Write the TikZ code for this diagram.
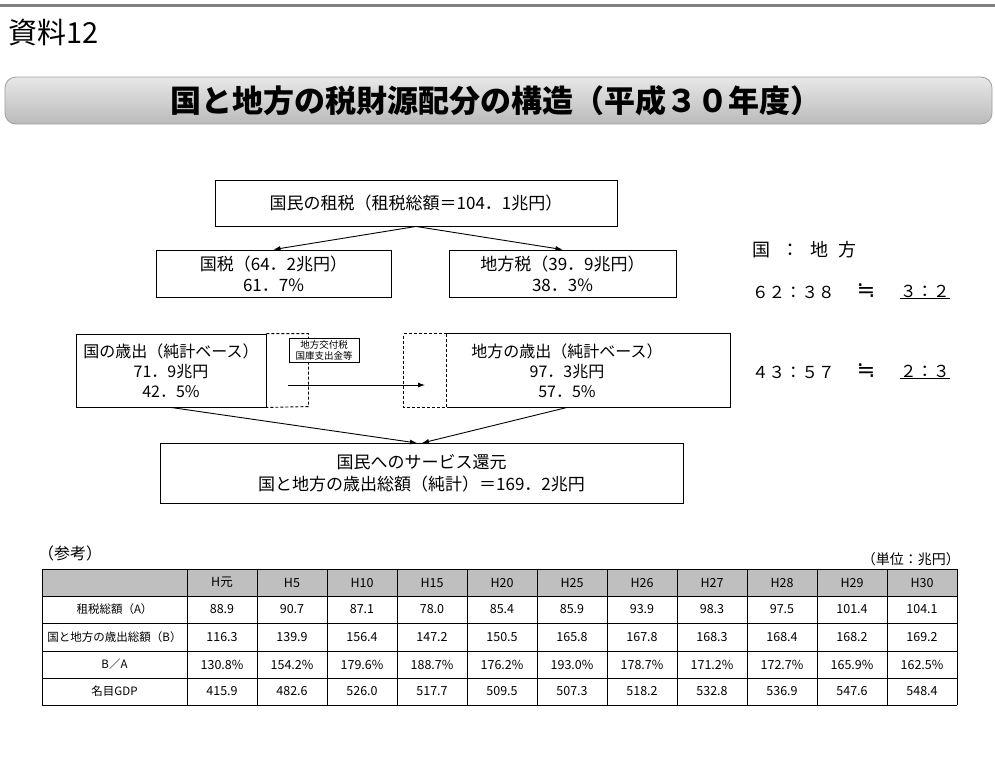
\documentclass[tikz,border=0pt]{standalone}
\usepackage{fontspec}
\setmainfont{Noto Sans CJK JP}
\newfontfamily\symfont{DejaVu Sans}
\usetikzlibrary{arrows.meta,calc}
\begin{document}
\begin{tikzpicture}[x=1pt,y=-1pt,
  box/.style={draw=black,line width=0.9pt,fill=white,inner sep=0pt,align=center,font=\fontsize{17}{21}\selectfont},
  arr/.style={line width=0.9pt,-{Latex[length=7pt,width=5pt]}},
  ln/.style={line width=0.9pt},
  dsh/.style={line width=0.9pt,dash pattern=on 3pt off 2pt},
  txt/.style={inner sep=0pt,anchor=west},
  cell/.style={inner sep=0pt,font=\fontsize{12.5}{14}\selectfont},
  lab/.style={inner sep=0pt,font=\fontsize{11.5}{14}\selectfont},
  tline/.style={line width=1pt,black},
]
\useasboundingbox (0,0) rectangle (995,756);
% top rule
\draw[line width=2.5pt,gray] (0,5.5) -- (995,5.5);
\node[txt] (shiryo) at (8,33) {\fontsize{29}{30}\selectfont 資料12};
% title banner
\shade[top color=black!9,bottom color=black!27,draw=black!38,line width=0.8pt,rounded corners=11pt] (5,77) rectangle (992,124);
\node[inner sep=0pt] (title) at (496,101) {\fontsize{31}{33}\selectfont\bfseries 国と地方の税財源配分の構造（平成３０年度）};

% boxes
\node[box,minimum width=402pt,minimum height=46pt] (b1) at (416,203) {国民の租税（租税総額＝104．1兆円）};
\node[box,minimum width=235pt,minimum height=47pt] (kz) at (273.5,273.5) {国税（64．2兆円）\\61．7\%};
\node[box,minimum width=227pt,minimum height=47pt] (cz) at (562.5,273.5) {地方税（39．9兆円）\\38．3\%};
\draw[arr] (b1.south) -- (kz.north);
\draw[arr] (b1.south) -- (cz.north);

% ratios
\node[txt] (rh) at (752,250) {\fontsize{18}{20}\selectfont 国\hspace{11pt}：\hspace{11pt}地\hspace{10pt}方};
\node[txt] (r1a) at (752,292) {\fontsize{16.5}{20}\selectfont ６２：３８};
\node[inner sep=0pt] (r1b) at (866,291) {\fontsize{22}{22}\selectfont\symfont ≒};
\node[txt] (r1c) at (900,292) {\fontsize{16.5}{20}\selectfont\underline{３：２}};
\node[txt] (r2a) at (752,372) {\fontsize{16.5}{20}\selectfont ４３：５７};
\node[inner sep=0pt] (r2b) at (866,371) {\fontsize{22}{22}\selectfont\symfont ≒};
\node[txt] (r2c) at (900,372) {\fontsize{16.5}{20}\selectfont\underline{２：３}};

% national expenditure
\node[box,minimum width=190pt,minimum height=73pt,font=\fontsize{16}{20}\selectfont] (ks) at (171,370.5) {国の歳出（純計ベース）\\71．9兆円\\42．5\%};
\draw[dsh] (ks.north east) -- ++(42,0) -- ++(0,73) -- (ks.south east);
% local expenditure
\node[box,draw=none,fill=none,minimum width=326pt,minimum height=73pt,font=\fontsize{16}{20}\selectfont] (cs) at (567,370.5) {地方の歳出（純計ベース）\\97．3兆円\\57．5\%};
\draw[ln] ($(cs.north west)+(43,0)$) -- (cs.north east) -- (cs.south east) -- ($(cs.south west)+(43,0)$);
\draw[dsh] ($(cs.north west)+(43,0)$) -- ($(cs.south west)+(43,0)$);
\draw[dsh,line width=1.3pt] ($(cs.north west)+(43,0)$) -- (cs.north west) -- (cs.south west) -- ($(cs.south west)+(43,0)$);
% transfer
\node[box,line width=0.7pt,minimum width=70pt,minimum height=24pt,font=\fontsize{9.5}{11}\selectfont] (sb) at (324,350) {地方交付税\\国庫支出金等};
\coordinate (tfA) at (288,385);
\coordinate (tfB) at (425,385);
\draw[arr] (tfA) -- (tfB);

% bottom box
\node[box,minimum width=523pt,minimum height=60pt,font=\fontsize{17}{22}\selectfont] (bb) at (421.5,473) {国民へのサービス還元\\国と地方の歳出総額（純計）＝169．2兆円};
\coordinate (bt1) at (417,443);
\coordinate (bt2) at (422,443);
\draw[arr] (ks.south) -- (bt1);
\draw[arr] (cs.south) -- (bt2);

% reference table
\node[txt] (sanko) at (38,553) {\fontsize{16}{18}\selectfont （参考）};
\node[inner sep=0pt,anchor=east] (unit) at (960,559) {\fontsize{14}{15}\selectfont （単位：兆円）};
\fill[gray!50] (42,569) rectangle (957,596);
\foreach \yy in {569,596,623,651,678,705} \draw[tline] (42,\yy) -- (957,\yy);
\draw[tline] (42,569) -- (42,705);
\foreach \k in {0,...,11} \draw[tline] ({187+70*\k},569) -- ({187+70*\k},705);
\node[lab] (l1) at (114.5,609.5) {租税総額（A）};
\node[lab] (l2) at (114.5,637) {国と地方の歳出総額（B）};
\node[lab] (l3) at (114.5,664.5) {B／A};
\node[lab] (l4) at (114.5,691.5) {名目GDP};
\foreach \v [count=\j] in {H元,H5,H10,H15,H20,H25,H26,H27,H28,H29,H30}
  \node[cell] (h\j) at ({222+70*(\j-1)},582.5) {\v};
\foreach \v [count=\j] in {88.9,90.7,87.1,78.0,85.4,85.9,93.9,98.3,97.5,101.4,104.1}
  \node[cell] (a\j) at ({222+70*(\j-1)},609.5) {\v};
\foreach \v [count=\j] in {116.3,139.9,156.4,147.2,150.5,165.8,167.8,168.3,168.4,168.2,169.2}
  \node[cell] (b\j) at ({222+70*(\j-1)},637) {\v};
\foreach \v [count=\j] in {130.8,154.2,179.6,188.7,176.2,193.0,178.7,171.2,172.7,165.9,162.5}
  \node[cell] (c\j) at ({222+70*(\j-1)},664.5) {\v\%};
\foreach \v [count=\j] in {415.9,482.6,526.0,517.7,509.5,507.3,518.2,532.8,536.9,547.6,548.4}
  \node[cell] (d\j) at ({222+70*(\j-1)},691.5) {\v};
\end{tikzpicture}
\end{document}
